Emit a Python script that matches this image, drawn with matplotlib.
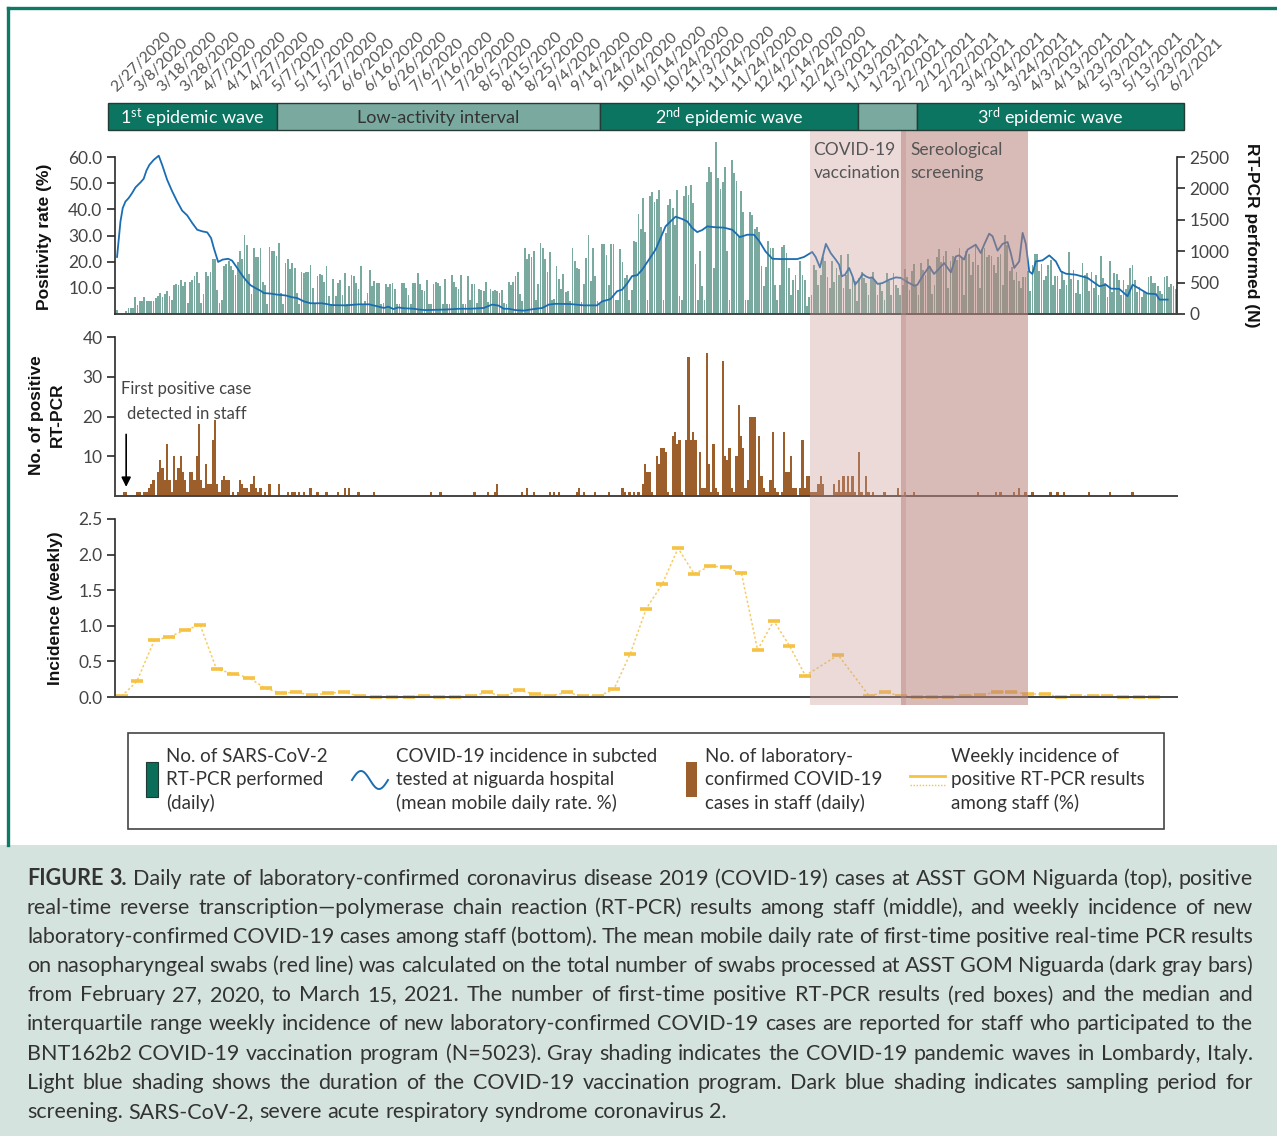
import numpy as np
import matplotlib
matplotlib.use("Agg")
import matplotlib.pyplot as plt
from matplotlib.patches import Rectangle
from matplotlib.lines import Line2D

plt.rcParams["font.family"] = ["Lato", "DejaVu Sans"]
plt.rcParams["mathtext.fontset"] = "custom"
plt.rcParams["mathtext.rm"] = "Lato"
plt.rcParams["mathtext.default"] = "regular"

W, H = 1277, 1136

# ---- data ----
date_labels = ["2/27/2020", "3/8/2020", "3/18/2020", "3/28/2020", "4/7/2020", "4/17/2020",
               "4/27/2020", "5/7/2020", "5/17/2020", "5/27/2020", "6/6/2020", "6/16/2020",
               "6/26/2020", "7/6/2020", "7/16/2020", "7/26/2020", "8/5/2020", "8/15/2020",
               "8/25/2020", "9/4/2020", "9/14/2020", "9/24/2020", "10/4/2020", "10/14/2020",
               "10/24/2020", "11/3/2020", "11/14/2020", "11/24/2020", "12/4/2020", "12/14/2020",
               "12/24/2020", "1/3/2021", "1/13/2021", "1/23/2021", "2/2/2021", "2/12/2021",
               "2/22/2021", "3/4/2021", "3/14/2021", "3/24/2021", "4/3/2021", "4/13/2021",
               "4/23/2021", "5/3/2021", "5/13/2021", "5/23/2021", "6/2/2021"]

# daily RT-PCR performed (N), from 2/27/2020
rtpcr_daily = [
    58, 0, 0, 0, 40, 100, 100, 100, 265, 150,
    200, 200, 265, 210, 210, 205, 205, 255, 285, 335,
    265, 320, 370, 280, 215, 460, 480, 460, 535, 440,
    505, 175, 515, 540, 610, 670, 500, 175, 320, 670,
    605, 670, 880, 880, 380, 175, 215, 770, 800, 845,
    770, 705, 625, 825, 1000, 875, 1255, 1105, 630, 320,
    1050, 915, 915, 1050, 505, 465, 160, 1065, 1000, 1000,
    920, 1125, 335, 165, 810, 875, 720, 810, 735, 335,
    165, 670, 660, 665, 670, 780, 415, 165, 605, 635,
    625, 510, 770, 285, 165, 560, 290, 490, 540, 310,
    655, 165, 450, 625, 605, 490, 400, 770, 165, 210,
    335, 700, 440, 530, 495, 495, 165, 175, 480, 435,
    475, 495, 405, 165, 165, 495, 495, 410, 310, 165,
    495, 495, 650, 485, 380, 365, 535, 165, 165, 485,
    505, 490, 445, 165, 560, 165, 165, 625, 510, 435,
    405, 620, 165, 165, 610,
    218, 480, 485, 170, 400, 380, 360, 505, 185, 405,
    370, 390, 370, 335, 390, 180, 165, 505, 465, 505,
    610, 670, 325, 205, 1050, 875, 950, 910, 1010, 218,
    480, 1125, 1050, 875, 670, 990, 218, 235, 765, 560,
    400, 640, 355, 360, 200, 1050, 840, 730, 720, 185,
    480, 890, 1255, 520, 1050, 605, 212, 165, 1115, 1115,
    935, 460, 1115, 1115, 223, 218, 1030, 825, 570, 615,
    223, 390, 1160, 1150, 1590, 1350, 1850, 1300, 218, 1885,
    1945, 1785, 1825, 1970, 1390, 218, 1290, 1740, 1830, 1685,
    1410, 1980, 280, 218, 1875, 2035, 1890, 2060, 1770, 790,
    218, 1005, 445, 218, 2110, 2335, 2260, 735, 2740, 2160,
    1985, 2110, 2335, 1000, 218, 2450, 2245, 2115, 1250, 1955,
    1625, 223, 223, 1625, 1570, 1360, 1390, 1305, 760, 445,
    750, 1170, 1050, 1055, 465, 218, 465, 1060, 1095, 970,
    735, 310, 545, 625, 390, 845, 625, 540, 125, 265,
    310, 785, 700, 460, 625, 900,
    840, 585, 415, 840, 510, 735, 625, 945,
    415, 625, 950, 405, 625, 520, 200, 575, 670, 575,
    495, 310, 575, 670, 520, 310, 485, 370, 225, 655,
    520, 310, 655, 465, 415, 310, 465, 720, 585, 380,
    690, 795, 465, 310, 810, 700, 615, 880, 760, 315,
    465, 910, 1035, 830, 920, 1010, 415, 840, 930, 915,
    865, 1050, 890, 310, 1010, 950, 625, 835, 1115, 785,
    415, 1040, 1050, 910, 945, 925, 785, 650, 910, 955,
    465, 1255, 1105, 680, 745, 545, 670, 520, 415, 585,
    585, 690, 360, 785, 955, 955, 690, 795, 535, 600,
    775, 865, 465, 605, 605, 405, 680, 535, 455, 990,
    565, 705, 340, 535, 325, 805, 615, 660, 370, 665,
    415, 615, 310, 930, 575, 490, 275, 840, 350, 650,
    630, 535, 310, 540, 395, 455, 740, 775, 535, 350,
    430, 275, 370, 335, 585, 610, 495, 495, 440, 360,
    320, 585, 610, 425, 485, 440, 405]

# positivity rate (%) - mean mobile daily rate, day index / value
pos_days = [0, 1.5, 2.5, 3.7, 5.1, 6.6, 8.1, 10.3, 11.7, 12.9, 14.2, 16.1, 18.3, 19.8, 22, 24.2,
            26.4, 28.6, 30.8, 33, 35.2, 37.4, 39.6, 41.3, 42.5, 44.4, 46.4, 48.8, 50.5, 52.3,
            54.2, 56.4, 58.6, 60.8, 63, 64.5, 67.4, 70.3, 74, 76.9, 79.1, 82.1, 85, 90.1, 94.5,
            100.4, 106.2, 110.6, 115, 117.2, 119.1, 121.3, 123.5, 126, 130.4, 132.6, 135.5,
            144.3, 150.2, 155.2, 161, 164.7, 167.6, 169.8, 172, 174.9, 178.6, 182.3, 186.7,
            189.6, 192.5, 199.1, 205, 210.8, 213, 216.7, 219.6, 221.8, 224, 226.2, 228.4,
            230.6, 233.6, 236.5, 238.7, 240.9, 243.1, 245.3, 248.2, 250.4, 252.6, 254.8, 257,
            259.2, 262.1, 266.5, 270.2, 273.5, 276.8, 279.7, 281.9, 284.8, 287.8, 291.4, 298.7,
            301.7, 305.3, 306.8, 308.7, 311.3, 313.4, 315.6, 317.1, 318.3, 319.7, 321.5, 323,
            324.1, 325.9, 327.4, 328.8, 330.3, 331.7, 334, 336.1, 339.1, 342, 344.2, 347.1,
            350.1, 351.5, 353.7, 356.7, 358.8, 361, 363.2, 366.2, 368.4, 369.8, 372, 373.5,
            377.1, 379.3, 380.8, 383, 384.5, 386.7, 388.9, 391.1, 392.5, 394, 396.2, 397.7,
            399.1, 400.6, 402, 403.5, 406.4, 409.4, 412.3, 414.5, 416.7, 421.1, 426.2, 431.4,
            434.3, 436.5, 440.1, 443.8, 446, 449.7, 452.6, 456.3, 457.8, 461.4]
pos_rate = [21.8, 35.4, 40.5, 43, 44.3, 46.2, 48.4, 50.3, 51.7, 54.8, 57, 58.9, 60.5, 57, 51.3, 46.9,
            43, 39.5, 37.7, 34.8, 32.2, 31.6, 31.2, 29, 25.2, 19.9, 20.8, 21.1, 20.4, 18.2,
            15.7, 13.1, 11, 9.9, 8.9, 8, 7.8, 7.4, 7.1, 6.4, 6.1, 4.8, 4.1, 4.1, 3.4,
            3.3, 3.7, 3.7, 2.8, 2.3, 2.8, 1.9, 2.5, 2.2, 2.0, 1.7, 1.5,
            1.7, 2.0, 2.0, 2.3, 3.6, 3.2, 2.0, 2.0, 1.5, 1.3, 1.8, 2.3,
            3.6, 3.9, 3.8, 3.3, 3.3, 4.8, 5.7, 8.7, 9.3, 11.6, 14.5, 14.8,
            16.9, 20.8, 24.6, 29, 33.5, 35.4, 37.2, 36.3, 35.4, 32.9, 31.3, 32.1,
            33.5, 33.2, 33, 32.2, 29.4, 30.3, 30.3, 28, 23.9, 21.1, 21, 21,
            21.8, 23.7, 21.8, 17.8, 26.8, 23.3, 20.8, 18.9, 14.4, 15, 17.6, 14.4,
            11.2, 13.1, 15.3, 14.4, 13.8, 14, 11.5, 11.8, 13.1, 14, 13.8, 12.2,
            10.8, 11.2, 14.4, 18.2, 15.3, 17.3, 19.5, 15.9, 22, 22.4, 20.8, 24.6,
            26.5, 23.3, 26.5, 30.7, 29.7, 24.2, 26.8, 27.5, 23.3, 17.6, 20.1, 31,
            26.8, 16.3, 15.3, 20.1, 20.5, 22.4, 20.1, 16.3, 15.4, 15, 13.8, 10.6,
            11.2, 9.7, 9.6, 6.8, 11.2, 9.3, 7.8, 7.6, 5.5, 5.5]

# positive RT-PCR among staff (daily), day index / count
staff_days = [3, 4, 9, 10, 12, 13, 14, 15, 16, 18, 19, 20, 21, 22, 23, 24, 25, 26, 27, 28, 29, 30,
              31, 32, 33, 34, 35, 36, 37, 38, 39, 40, 41, 42, 43, 44, 45, 46, 47, 48, 49, 51, 53,
              54, 55, 56, 57, 58, 59, 60, 61, 62, 63, 65, 67, 71, 75, 77, 78, 80, 82, 85, 88, 92,
              97, 100, 102, 106, 113, 138, 142, 157, 163, 166, 167, 178, 180, 183, 190, 192, 194,
              202, 203, 205, 210, 216, 222, 223, 225,
              227, 229, 231, 232, 233, 234, 235, 237, 238, 239, 240, 241, 242, 244, 245, 246, 247,
              248, 250, 251, 252, 253, 254, 256, 257, 258, 259, 260, 261, 262, 263, 264, 266, 267,
              268, 269, 270, 271, 272, 273, 274, 275, 276, 277, 278, 279, 280, 282, 283, 284, 285,
              286, 287, 288, 289, 290, 292, 293, 294, 295, 296, 297, 298, 300, 301, 302, 303, 304,
              305, 306, 307, 308, 309, 310, 315, 316, 317, 318, 319, 320, 321, 322, 323, 324, 326,
              327, 329, 330, 332, 337, 343, 346, 350, 378, 386, 388, 394, 396, 399, 402, 410, 413,
              416, 427, 436, 446]
staff_pos = [1, 1, 1, 1, 1, 1, 2, 3, 4, 6, 9, 7, 4, 13, 4, 1, 10, 4, 7, 10, 6, 4,
             1, 6, 6, 4, 10, 18, 4, 2, 8, 3, 3, 14, 19, 3, 1, 4, 5, 4, 4, 1, 1,
             4, 3, 2, 2, 1, 3, 5, 2, 1, 2, 1, 3, 3, 1, 1, 1, 1, 1, 2, 1, 1,
             1, 2, 2, 1, 1, 1, 1, 1, 1, 1, 3, 1, 2, 1, 1, 1, 1,
             1, 2, 1, 1, 1, 2, 1, 1,
             1, 1, 3, 8, 6, 6, 1, 10, 8, 12, 12, 11, 1, 15, 16, 13, 14,
             1, 14, 35, 14, 16, 14, 11, 2, 2, 36, 8, 1, 13, 2, 1, 34, 10,
             9, 12, 2, 1, 10, 23, 15, 12, 2, 4, 20, 20, 20, 15, 5, 2, 1,
             1, 4, 16, 2, 1, 1, 16, 6, 6, 10, 2, 2, 2, 14, 2, 5, 5,
             1, 1, 1, 3, 5, 3, 3, 1, 4, 1, 5, 1, 5, 1, 5, 1, 11,
             1, 5, 1, 1, 1, 2, 1, 1, 1, 1, 1, 1, 2, 1, 1, 1, 1,
             1, 1, 1, 1]

# weekly incidence among staff (%)
week_days = [2, 8.7, 16.4, 22.7, 29.8, 36.5, 43.7, 50.8, 58, 65.2, 72, 78.8, 85.8, 92.6, 99.8,
             106.5, 113.6, 120.8, 128, 134.6, 141.4, 148.6, 155.4, 162.5, 169.7, 176.7, 183.5,
             190.3, 197.5, 204.7, 211.4, 218.2, 225.4, 232.4, 239.5, 246.4, 253.4, 260.6, 267.3,
             274.2, 281.3, 288.4, 295.3, 302.3, 316.7, 330.3, 337.2, 344.1, 351.2, 358.1, 365,
             372.3, 379, 386.3, 392.6, 399.9, 407.5, 414.4, 421.3, 428.6, 434.9, 441.8, 448.7,
             455.6]
week_inc = [0.01, 0.22, 0.80, 0.84, 0.94, 1.01, 0.39, 0.33, 0.27, 0.12, 0.056, 0.066, 0.023, 0.056,
            0.066, 0.01, 0, 0, 0, 0.02, 0, 0.005, 0.01, 0.066, 0.01, 0.094, 0.04, 0.014, 0.066,
            0.01, 0.01, 0.108, 0.61, 1.24, 1.59, 2.09, 1.73, 1.84, 1.82, 1.74, 0.66, 1.07, 0.72,
            0.30, 0.59, 0.014, 0.07, 0.014, 0, 0, 0, 0.014, 0.028, 0.07, 0.07, 0.047, 0.038, 0,
            0.014, 0.014, 0.014, 0, 0, 0]

pos_ticks = [10, 20, 30, 40, 50, 60]
n_ticks = [0, 500, 1000, 1500, 2000, 2500]
staff_ticks = [10, 20, 30, 40]
inc_ticks = [0.0, 0.5, 1.0, 1.5, 2.0, 2.5]

wave_edges = [-3.9, 70.3, 212.1, 325.4, 351.3, 468.6]
wave_names = ["1$^{st}$ epidemic wave", "Low-activity interval", "2$^{nd}$ epidemic wave", "",
              "3$^{rd}$ epidemic wave"]
wave_dark = [True, False, True, False, True]
vacc_span = (304.3, 346.5)
sero_span = (344.3, 400.1)

caption_lines = [
    "FIGURE 3. Daily rate of laboratory-confirmed coronavirus disease 2019 (COVID-19) cases at ASST GOM Niguarda (top), positive",
    "real-time reverse transcription\u2014polymerase chain reaction (RT-PCR) results among staff (middle), and weekly incidence of new",
    "laboratory-confirmed COVID-19 cases among staff (bottom). The mean mobile daily rate of first-time positive real-time PCR results",
    "on nasopharyngeal swabs (red line) was calculated on the total number of swabs processed at ASST GOM Niguarda (dark gray bars)",
    "from February 27, 2020, to March 15, 2021. The number of first-time positive RT-PCR results (red boxes) and the median and",
    "interquartile range weekly incidence of new laboratory-confirmed COVID-19 cases are reported for staff who participated to the",
    "BNT162b2 COVID-19 vaccination program (N=5023). Gray shading indicates the COVID-19 pandemic waves in Lombardy, Italy.",
    "Light blue shading shows the duration of the COVID-19 vaccination program. Dark blue shading indicates sampling period for",
    "screening. SARS-CoV-2, severe acute respiratory syndrome coronavirus 2.",
]

# ---- colours ----
TEAL = "#0b7561"
TEAL_L = "#7aaa9f"
BAR_G = "#7aa99f"
BROWN = "#9c5e2b"
BLUE = "#1a6db3"
YEL = "#f6c244"
TXT = "#444444"
SPINE = "#2a2a2a"

fig = plt.figure(figsize=(W / 100, H / 100), dpi=100)


def box(l, t, r, b):
    return [l / W, 1 - b / H, (r - l) / W, (b - t) / H]


def fx(px):
    return px / W


def fy(py):
    return 1 - py / H


N = len(rtpcr_daily)
days = np.arange(N)
XL = (-0.9, N - 0.5)


def tick_style(ax):
    ax.tick_params(axis="y", direction="out", length=6, width=1.2, color=SPINE,
                   labelsize=12.5, labelcolor=TXT, pad=3)


def style_left(ax, ticks, labels, top):
    for s in ["top", "right"]:
        ax.spines[s].set_visible(False)
    ax.spines["left"].set_bounds(0, top)
    ax.spines["left"].set_color(SPINE)
    ax.spines["left"].set_linewidth(1.2)
    ax.spines["bottom"].set_color("#444444")
    ax.spines["bottom"].set_linewidth(1.4)
    ax.set_yticks(ticks)
    ax.set_yticklabels(labels)
    tick_style(ax)
    ax.set_xticks([])
    ax.set_xlim(*XL)


# ---- top panel: RT-PCR bars (right axis) + positivity line (left axis) ----
axb = fig.add_axes(box(115, 140, 1177, 314))
axp = axb.twinx()

axb.bar(days, rtpcr_daily, width=0.78, color=BAR_G, linewidth=0)
axb.set_xlim(*XL)
axb.set_ylim(0, 2771)
for s in ["top", "left", "right"]:
    axb.spines[s].set_visible(False)
axb.spines["bottom"].set_color("#444444")
axb.spines["bottom"].set_linewidth(1.4)
axb.set_xticks([])

axp.plot(pos_days, pos_rate, color=BLUE, lw=1.3, solid_joinstyle="round")
axp.set_xlim(*XL)
axp.set_ylim(0, 66.5)
for s in ["top", "bottom"]:
    axp.spines[s].set_visible(False)

# positivity on the left, N performed on the right
axp.yaxis.set_ticks_position("left")
axp.spines["left"].set_visible(True)
axp.spines["left"].set_bounds(0, 60)
axp.spines["left"].set_color(SPINE)
axp.spines["left"].set_linewidth(1.2)
axp.spines["right"].set_visible(False)
axp.set_yticks(pos_ticks)
axp.set_yticklabels(["%.1f" % v for v in pos_ticks])
tick_style(axp)

axb.yaxis.set_ticks_position("right")
axb.spines["right"].set_visible(True)
axb.spines["right"].set_bounds(0, 2500)
axb.spines["right"].set_color(SPINE)
axb.spines["right"].set_linewidth(1.2)
axb.set_yticks(n_ticks)
axb.set_yticklabels([str(v) for v in n_ticks])
tick_style(axb)
axb.tick_params(axis="y", left=False, labelleft=False, right=True, labelright=True)
axp.tick_params(axis="y", right=False, labelright=False, left=True, labelleft=True)

# ---- middle panel: staff positives ----
axm = fig.add_axes(box(115, 337, 1177, 496))
axm.bar(staff_days, staff_pos, width=1.0, color=BROWN, linewidth=0)
axm.set_ylim(0, 40)
style_left(axm, staff_ticks, [str(v) for v in staff_ticks], 40)
axm.annotate("", xy=(4, 1.6), xytext=(4, 16.2),
             arrowprops=dict(arrowstyle="-|>", color="black", lw=1.2, mutation_scale=14))
axm.text(30.5, 23.8, "First positive case\ndetected in staff", ha="center", va="center",
         fontsize=12, color=TXT, linespacing=1.75)

# ---- bottom panel: weekly incidence ----
axi = fig.add_axes(box(115, 519, 1177, 697))
axi.plot(week_days, week_inc, color=YEL, lw=1.1, ls=(0, (1.5, 1.5)), alpha=0.85, clip_on=False)
axi.plot(week_days, week_inc, ls="none", marker="_", ms=9, mew=2.6, color=YEL, clip_on=False)
axi.set_ylim(0, 2.5)
style_left(axi, inc_ticks, ["%.1f" % v for v in inc_ticks], 2.5)

# ---- shading overlay ----
axs = fig.add_axes(box(115, 130, 1177, 705))
axs.set_xlim(*XL)
axs.set_ylim(0, 1)
axs.axis("off")
axs.axvspan(*vacc_span, color="#c89b95", alpha=0.36, lw=0)
axs.axvspan(*sero_span, color="#b9827c", alpha=0.55, lw=0)
axs.text(vacc_span[0] + 1.5, 0.945, "COVID-19\nvaccination", ha="left", va="center",
         fontsize=12.5, color="#555555", linespacing=1.55)
axs.text(sero_span[0] + 4.2, 0.945, "Sereological\nscreening", ha="left", va="center",
         fontsize=12.5, color="#555555", linespacing=1.55)

# ---- wave bar ----
axw = fig.add_axes(box(115, 103, 1177, 130))
axw.set_xlim(*XL)
axw.set_ylim(0, 1)
axw.axis("off")
for i, name in enumerate(wave_names):
    x0, x1 = wave_edges[i], wave_edges[i + 1]
    axw.add_patch(Rectangle((x0, 0), x1 - x0, 1, facecolor=TEAL if wave_dark[i] else TEAL_L,
                            edgecolor="#243c36", lw=1.0, clip_on=False))
    if name:
        axw.text((x0 + x1) / 2, 0.45, name, ha="center", va="center", fontsize=13,
                 color="white" if wave_dark[i] else "#333333")

# ---- date labels ----
axd = fig.add_axes(box(117, 20, 1174, 92))
axd.set_xlim(0, len(date_labels) - 1)
axd.set_ylim(0, 1)
axd.axis("off")
for i, lab in enumerate(date_labels):
    axd.text(i, 0, lab, rotation=45, rotation_mode="anchor", ha="left", va="baseline",
             fontsize=11.3, color="#555555")

# ---- axis titles ----
lab_font = dict(family=["Liberation Sans", "DejaVu Sans"], fontweight="bold", fontsize=12.5,
                color="#111111")
fig.text(fx(45), fy(237), "Positivity rate (%)", rotation=90, ha="center", va="center", **lab_font)
fig.text(fx(47), fy(415), "No. of positive\nRT-PCR", rotation=90, ha="center", va="center",
         multialignment="center", linespacing=1.5, **lab_font)
fig.text(fx(56), fy(608), "Incidence (weekly)", rotation=90, ha="center", va="center", **lab_font)
fig.text(fx(1252), fy(235), "RT-PCR performed (N)", rotation=270, ha="center", va="center",
         **lab_font)

# ---- legend ----
leg_font = dict(fontsize=13.5, color="#333333", va="center", ha="left", linespacing=1.38)
fig.patches.append(Rectangle((fx(128), fy(829)), fx(1164) - fx(128), fy(733) - fy(829),
                             transform=fig.transFigure, fill=False, edgecolor="#444444", lw=1.2))
fig.patches.append(Rectangle((fx(146), fy(797)), fx(158) - fx(146), fy(762) - fy(797),
                             transform=fig.transFigure, facecolor="#0b6e5a", edgecolor="#1d3a33",
                             lw=0.8))
fig.text(fx(166), fy(780), "No. of SARS-CoV-2\nRT-PCR performed\n(daily)", **leg_font)
t = np.linspace(0, 1, 60)
fig.lines.append(Line2D(fx(352 + 36 * t), fy(780 - 9 * np.sin(2 * np.pi * t)),
                        transform=fig.transFigure, color=BLUE, lw=1.4))
fig.text(fx(396), fy(780), "COVID-19 incidence in subcted\ntested at niguarda hospital\n"
         "(mean mobile daily rate. %)", **leg_font)
fig.patches.append(Rectangle((fx(686), fy(797)), fx(697) - fx(686), fy(762) - fy(797),
                             transform=fig.transFigure, facecolor=BROWN, edgecolor="none"))
fig.text(fx(705), fy(780), "No. of laboratory-\nconfirmed COVID-19\ncases in staff (daily)",
         **leg_font)
fig.lines.append(Line2D([fx(910), fx(945)], [fy(776), fy(776)], transform=fig.transFigure,
                        color=YEL, lw=2))
fig.lines.append(Line2D([fx(910), fx(945)], [fy(785), fy(785)], transform=fig.transFigure,
                        color=YEL, lw=1, ls=(0, (1, 1.2))))
fig.text(fx(951), fy(780), "Weekly incidence of\npositive RT-PCR results\namong staff (%)",
         **leg_font)

# ---- frame ----
fig.lines.append(Line2D([fx(8), fx(8)], [fy(845), fy(8)], transform=fig.transFigure,
                        color="#0e7a66", lw=2.4))
fig.lines.append(Line2D([fx(8), fx(1277)], [fy(8), fy(8)], transform=fig.transFigure,
                        color="#0e7a66", lw=2.4))

# ---- caption (justified) ----
fig.patches.append(Rectangle((0, 0), 1, fy(845), transform=fig.transFigure,
                             facecolor="#d5e3de", edgecolor="none", zorder=-5))
renderer = fig.canvas.get_renderer()
cap_l, cap_r = 27, 1253
cap_top = 885
cap_step = 29.1


def measure(s, size, weight):
    tt = fig.text(0, 0, s, fontsize=size, fontweight=weight)
    w = tt.get_window_extent(renderer).width
    tt.remove()
    return w


def split_words(line, first):
    out = []
    for k, w in enumerate(line.split(" ")):
        bold = first and k < 2
        out.append((w, "bold" if bold else "normal"))
    return out


cap_size = 15.6
while True:
    ok = True
    for i, line in enumerate(caption_lines[:-1]):
        words = split_words(line, i == 0)
        total = sum(measure(w, cap_size, wt) for w, wt in words) + 4.5 * (len(words) - 1)
        if total > cap_r - cap_l:
            ok = False
            break
    if ok:
        break
    cap_size -= 0.1

space_w = measure("a a", cap_size, "normal") - measure("aa", cap_size, "normal")
for i, line in enumerate(caption_lines):
    words = split_words(line, i == 0)
    widths = [measure(w, cap_size, wt) for w, wt in words]
    if i < len(caption_lines) - 1:
        gap = (cap_r - cap_l - sum(widths)) / (len(words) - 1)
    else:
        gap = space_w
    x = cap_l
    for (w, wt), wd in zip(words, widths):
        fig.text(fx(x), fy(cap_top + i * cap_step), w, fontsize=cap_size, fontweight=wt,
                 color="#333333", ha="left", va="baseline")
        x += wd + gap

fig.savefig("out.png", dpi=100)
